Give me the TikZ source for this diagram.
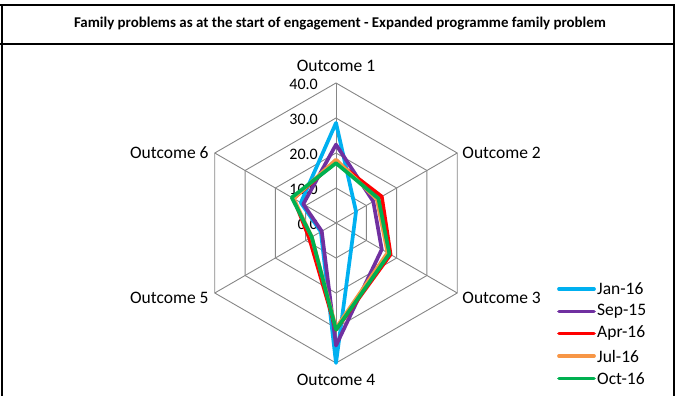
\documentclass[tikz,border=0pt]{standalone}
\usepackage{fontspec}
\setmainfont{Carlito}
\usetikzlibrary{calc}

\definecolor{janblue}{HTML}{00B0F0}
\definecolor{seppurple}{HTML}{7030A0}
\definecolor{aprred}{HTML}{FF0000}
\definecolor{julorange}{HTML}{F79646}
\definecolor{octgreen}{HTML}{00B050}
\definecolor{gridgray}{HTML}{868686}

% one series of the radar chart: colour, then the six outcome values
\newcommand{\radarline}[7]{%
  \draw[series, #1] ($(C)+(90:{#2*3.5})$) -- ($(C)+(30:{#3*3.5})$) -- ($(C)+(-30:{#4*3.5})$)
    -- ($(C)+(-90:{#5*3.5})$) -- ($(C)+(-150:{#6*3.5})$) -- ($(C)+(150:{#7*3.5})$) -- cycle;}

\begin{document}
\begin{tikzpicture}[x=1pt, y=1pt,
    grid/.style={draw=gridgray, line width=0.9pt},
    series/.style={line width=3.7pt, line join=round},
    frame/.style={line width=2pt},
    axislabel/.style={font=\fontsize{17.5}{19}\selectfont, inner sep=0pt},
    ticklabel/.style={font=\fontsize{16}{18}\selectfont, inner sep=0pt, anchor=east}]
    \useasboundingbox (0,0) rectangle (681,396);

    % Frame and title
    \draw[frame] (0,391) -- (674,391) -- (674,0);
    \draw[frame] (2,391) -- (2,0);
    \draw[frame] (0,352) -- (674,352);
    \node[font=\bfseries\fontsize{14.9}{16}\selectfont] (title) at (340,372)
        {Family problems as at the start of engagement - Expanded programme family problem};

    % Grid
    \coordinate (C) at (336,173);
    \foreach \r in {35,70,105,140}
        \draw[grid] (C) ++(90:\r) -- ++(-30:\r) -- ++(-90:\r) -- ++(-150:\r) -- ++(150:\r) -- ++(90:\r) -- cycle;
    \foreach \a in {90,30,-30,-90,-150,150}
        \draw[grid] (C) -- ++(\a:140);

    % Tick labels
    \foreach \v [count=\i from 0] in {0.0,10.0,20.0,30.0,40.0}
        \node[ticklabel] (t\i) at ($(C)+(-18,35*\i-1)$) {\v};

    % Axis labels
    \node[axislabel, anchor=south] (o1) at ($(C)+(0,151)$) {Outcome 1};
    \node[axislabel, anchor=west] (o2) at ($(C)+(30:140)+(5,0)$) {Outcome 2};
    \node[axislabel, anchor=west] (o3) at ($(C)+(-30:140)+(5,-5)$) {Outcome 3};
    \node[axislabel, anchor=north] (o4) at ($(C)+(0,-151)$) {Outcome 4};
    \node[axislabel, anchor=east] (o5) at ($(C)+(-150:140)+(-6,-5)$) {Outcome 5};
    \node[axislabel, anchor=east] (o6) at ($(C)+(150:140)+(-6,0)$) {Outcome 6};

    % Series
    \radarline{janblue}{28.6}{6.6}{5.7}{40}{5}{11.6}
    \radarline{seppurple}{22.4}{12.3}{15.1}{35}{4.7}{10.8}
    \radarline{aprred}{17.6}{15.1}{18}{30.5}{8.8}{14}
    \radarline{julorange}{18.1}{13.5}{17}{30}{8}{14}
    \radarline{octgreen}{17.1}{14}{17.6}{30.5}{8}{14.6}

    % Legend
    \node[axislabel, anchor=west] (l1) at (597,107) {Jan-16};
    \node[axislabel, anchor=west] (l2) at (597,84.5) {Sep-15};
    \node[axislabel, anchor=west] (l3) at (597,62.5) {Apr-16};
    \node[axislabel, anchor=west] (l4) at (597,40) {Jul-16};
    \node[axislabel, anchor=west] (l5) at (597,17.5) {Oct-16};
    \draw[series, line cap=round, janblue] ($(l1.west)+(-38,0)$) -- ($(l1.west)+(-3,0)$);
    \draw[series, line cap=round, seppurple] ($(l2.west)+(-38,0)$) -- ($(l2.west)+(-3,0)$);
    \draw[series, line cap=round, aprred] ($(l3.west)+(-38,0)$) -- ($(l3.west)+(-3,0)$);
    \draw[series, line cap=round, julorange] ($(l4.west)+(-38,0)$) -- ($(l4.west)+(-3,0)$);
    \draw[series, line cap=round, octgreen] ($(l5.west)+(-38,0)$) -- ($(l5.west)+(-3,0)$);
\end{tikzpicture}
\end{document}
